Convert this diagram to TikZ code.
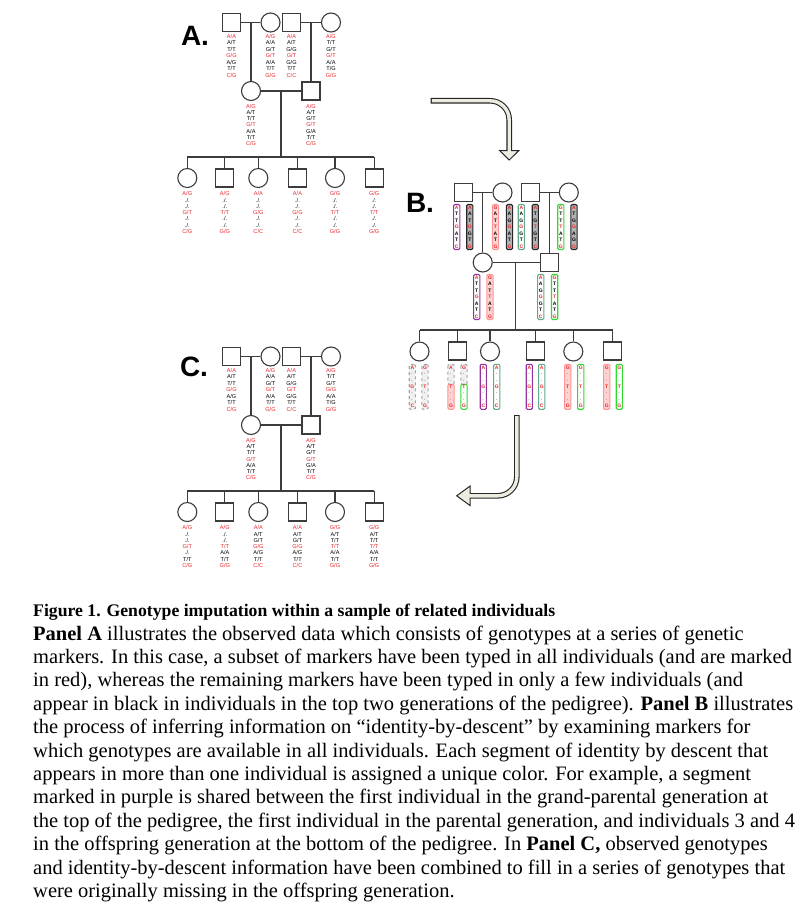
\documentclass[tikz,border=0pt]{standalone}
\usepackage{fontspec}
\setmainfont{Liberation Serif}
\setsansfont{Liberation Sans}
\usetikzlibrary{shapes, arrows.meta, positioning, calc}
\definecolor{genored}{RGB}{235, 35, 40}
\definecolor{pedline}{RGB}{60, 60, 60}
\definecolor{hpurple}{RGB}{150, 50, 160}
\definecolor{hpink}{RGB}{255, 150, 150}
\definecolor{hpinkfill}{RGB}{255, 210, 210}
\definecolor{hteal}{RGB}{95, 170, 135}
\definecolor{hgreen}{RGB}{45, 220, 45}
\definecolor{arrowfill}{RGB}{238, 236, 225}

\tikzset{
  male/.style={draw=pedline, line width=1.1pt, minimum size=18pt, inner sep=0pt},
  female/.style={circle, draw=pedline, line width=1.1pt, minimum size=19pt, inner sep=0pt},
  ped/.style={draw=pedline, line width=1.1pt},
  geno/.style={inner sep=0pt, font=\sffamily\fontsize{5.6}{6}\selectfont, text height=4pt, text depth=0.3pt},
  hap/.style={rounded corners=1.2pt, line width=1.1pt, minimum width=6.2pt, minimum height=45pt,
    inner sep=0pt, align=center, font=\sffamily\bfseries\fontsize{5}{6.45}\selectfont},
  purplebar/.style={hap, draw=hpurple, fill=white},
  blackbar/.style={hap, draw=black!85, fill=black!30},
  pinkbar/.style={hap, draw=hpink, fill=hpinkfill},
  tealbar/.style={hap, draw=hteal, fill=white},
  greenbar/.style={hap, draw=hgreen, fill=white},
  unkbar/.style={hap, draw=black!35, dashed, fill=black!6},
  panel/.style={inner sep=0pt, font=\sffamily\bfseries\fontsize{28}{30}\selectfont},
  arrowedge/.style={draw=black!85, line width=5.6pt},
  arrowbody/.style={draw=arrowfill, line width=3.4pt},
  arrowhead/.style={fill=arrowfill, draw=black!85, line width=1pt},
  caption/.style={inner sep=0pt, align=left, font=\fontsize{20.5}{23.4}\selectfont}
}

% genotypes under an individual, typed markers (rows 1, 4, 7) in red
\newcommand{\genos}[4]{%
  \foreach \g [count=\r] in {#4} {
    \pgfmathtruncatemacro{\typed}{mod(\r-1,3)==0}
    \pgfmathsetmacro{\dy}{#2+(\r-1)*#3}
    \ifnum\typed=1 \colorlet{gcol}{genored}\else\colorlet{gcol}{black}\fi
    \node[geno, text=gcol, yshift=-\dy pt] (#1-g\r) at (#1.south) {\g};
  }%
}
% haplotype letters, full and offspring (typed markers only)
\newcommand{\hapt}[7]{\textcolor{genored}{#1}\\#2\\#3\\\textcolor{genored}{#4}\\#5\\#6\\\textcolor{genored}{#7}}
\newcommand{\hapk}[3]{\textcolor{genored}{#1}\\\textcolor{gray}{·}\\\textcolor{gray}{·}\\\textcolor{genored}{#2}\\\textcolor{gray}{·}\\\textcolor{gray}{·}\\\textcolor{genored}{#3}}

% three-generation pedigree, shapes and lines
\newcommand{\pedtree}{%
  \node[male] (gf1) at (231.5,22.5) {};
  \node[female] (gm1) at (270.5,22.5) {};
  \node[male] (gf2) at (291.5,22.5) {};
  \node[female] (gm2) at (331,22.5) {};
  \node[female] (mo) at (251,91) {};
  \node[male] (fa) at (311,91) {};
  \coordinate (sib) at (281,157);
  \node[female] (k1) at (187.3,178) {};
  \node[male] (k2) at (224.8,178) {};
  \node[female] (k3) at (258.3,178) {};
  \node[male] (k4) at (297.5,178) {};
  \node[female] (k5) at (335,178) {};
  \node[male] (k6) at (374.2,178) {};
  \draw[ped] (gf1) -- (gm1);
  \draw[ped] (gf2) -- (gm2);
  \draw[ped] (mo |- gf1) -- (mo);
  \draw[ped] (fa |- gf2) -- (fa);
  \draw[ped] (mo) -- (fa);
  \draw[ped] (sib |- mo) -- (sib);
  \draw[ped] (k1 |- sib) -- (k6 |- sib);
  \foreach \k in {1,...,6} \draw[ped] (k\k |- sib) -- (k\k);
}

\begin{document}
\begin{tikzpicture}[x=1pt, y=-1pt]
  \useasboundingbox (0,0) rectangle (803,915);

  % Panel A: observed genotypes
  \node[panel] (labA) at (195,36) {A.};
  \begin{scope}[name prefix=a-]
    \pedtree
    \genos{gf1}{4.5}{6.5}{A/A,A/T,T/T,G/G,A/G,T/T,C/G}
    \genos{gm1}{4}{6.5}{A/G,A/A,G/T,G/T,A/A,T/T,G/G}
    \genos{gf2}{4.5}{6.5}{A/A,A/T,G/G,G/T,G/G,T/T,C/C}
    \genos{gm2}{4}{6.5}{A/G,T/T,G/T,G/T,A/A,T/G,G/G}
    \genos{mo}{5.5}{6.2}{A/G,A/T,T/T,G/T,A/A,T/T,C/G}
    \genos{fa}{6}{6.2}{A/G,A/T,G/T,G/T,G/A,T/T,C/G}
    \genos{k1}{5.8}{6.3}{A/G,./.,./.,G/T,./.,./.,C/G}
    \genos{k2}{6.3}{6.3}{A/G,./.,./.,T/T,./.,./.,G/G}
    \genos{k3}{5.8}{6.3}{A/A,./.,./.,G/G,./.,./.,C/C}
    \genos{k4}{6.3}{6.3}{A/A,./.,./.,G/G,./.,./.,C/C}
    \genos{k5}{5.8}{6.3}{G/G,./.,./.,T/T,./.,./.,G/G}
    \genos{k6}{6.3}{6.3}{G/G,./.,./.,T/T,./.,./.,G/G}
  \end{scope}

  % arrow A -> B
  \coordinate (arrA-s) at (430.7,100.8);
  \coordinate (arrA-c) at (509.2,100.8);
  \coordinate (arrA-e) at (509.2,150.7);
  \coordinate (arrA-t) at (509.2,160);
  \draw[arrowedge, rounded corners=19pt] (arrA-s) -- (arrA-c) -- (arrA-e);
  \filldraw[arrowhead] (arrA-e) ++(-9.5,0) -- ++(19,0) -- (arrA-t) -- cycle;
  \draw[arrowbody, rounded corners=19pt, shorten <=1.1pt, shorten >=-2.5pt] (arrA-s) -- (arrA-c) -- (arrA-e);

  % Panel B: identity-by-descent segments
  \node[panel] (labB) at (420,203) {B.};
  \node[male] (b-gf1) at (463.3,192.5) {};
  \node[female] (b-gm1) at (502.5,192.5) {};
  \node[male] (b-gf2) at (530.5,192.5) {};
  \node[female] (b-gm2) at (568.8,192.5) {};
  \node[female] (b-mo) at (482.7,262.5) {};
  \node[male] (b-fa) at (549.3,262.5) {};
  \coordinate (b-sib) at (515.8,330);
  \node[female] (b-k1) at (419.5,351.5) {};
  \node[male] (b-k2) at (457.2,351) {};
  \node[female] (b-k3) at (490,351.5) {};
  \node[male] (b-k4) at (535.5,351) {};
  \node[female] (b-k5) at (573.3,351.5) {};
  \node[male] (b-k6) at (612.5,351) {};
  \draw[ped] (b-gf1) -- (b-gm1);
  \draw[ped] (b-gf2) -- (b-gm2);
  \draw[ped] (b-mo |- b-gf1) -- (b-mo);
  \draw[ped] (b-fa |- b-gf2) -- (b-fa);
  \draw[ped] (b-mo) -- (b-fa);
  \draw[ped] (b-sib |- b-mo) -- (b-sib);
  \draw[ped] (b-k1 |- b-sib) -- (b-k6 |- b-sib);
  \foreach \k in {1,...,6} \draw[ped] (b-k\k |- b-sib) -- (b-k\k);

  \node[purplebar] (b-h1) at (456.7,227) {\hapt ATTGATC};
  \node[blackbar] (b-h2) at (469.8,227) {\hapt AATGGTG};
  \node[pinkbar] (b-h3) at (495.5,227) {\hapt GATTATG};
  \node[blackbar] (b-h4) at (509.5,227) {\hapt AAGGATG};
  \node[tealbar] (b-h5) at (521.3,227) {\hapt AAGGGTC};
  \node[blackbar] (b-h6) at (535.3,227) {\hapt ATGTGTC};
  \node[greenbar] (b-h7) at (560.8,227) {\hapt GTTTATG};
  \node[blackbar] (b-h8) at (574,227) {\hapt ATGGAGG};

  \node[purplebar] (b-h9) at (476.7,297) {\hapt ATTGATC};
  \node[pinkbar] (b-h10) at (490,297) {\hapt GATTATG};
  \node[tealbar] (b-h11) at (540.7,297) {\hapt AAGGGTC};
  \node[greenbar] (b-h12) at (554.6,297) {\hapt GTTTATG};

  \node[unkbar] (b-k1a) at (412.3,386.8) {\hapk AGC};
  \node[unkbar] (b-k1b) at (425,386.8) {\hapk GTG};
  % second child: segment known only below the recombination
  \draw[unkbar] (447.9,364.3) rectangle (454.1,384.3);
  \draw[pinkbar] (447.9,384.3) rectangle (454.1,409.3);
  \draw[unkbar] (460.9,364.3) rectangle (467.1,384.3);
  \draw[greenbar] (460.9,384.3) rectangle (467.1,409.3);
  \node[hap] (b-k2a) at (451,386.8) {\hapk ATG};
  \node[hap] (b-k2b) at (464,386.8) {\hapk GTG};
  \node[purplebar] (b-k3a) at (483.3,386.8) {\hapk AGC};
  \node[tealbar] (b-k3b) at (496.7,386.8) {\hapk AGC};
  \node[purplebar] (b-k4a) at (529.3,386.8) {\hapk AGC};
  \node[tealbar] (b-k4b) at (541.7,386.8) {\hapk AGC};
  \node[pinkbar] (b-k5a) at (567.7,386.8) {\hapk GTG};
  \node[greenbar] (b-k5b) at (580.7,386.8) {\hapk GTG};
  \node[pinkbar] (b-k6a) at (606.7,386.8) {\hapk GTG};
  \node[greenbar] (b-k6b) at (619.3,386.8) {\hapk GTG};

  % arrow B -> C
  \coordinate (arrB-s) at (516.8,415);
  \coordinate (arrB-c) at (516.8,495.8);
  \coordinate (arrB-e) at (470,495.8);
  \coordinate (arrB-t) at (456.7,495.8);
  \draw[arrowedge, rounded corners=19pt] (arrB-s) -- (arrB-c) -- (arrB-e);
  \filldraw[arrowhead] (arrB-e) ++(0,-9.7) -- ++(0,19.4) -- (arrB-t) -- cycle;
  \draw[arrowbody, rounded corners=19pt, shorten <=1.1pt, shorten >=-2.5pt] (arrB-s) -- (arrB-c) -- (arrB-e);

  % Panel C: imputed genotypes
  \node[panel] (labC) at (194,367) {C.};
  \begin{scope}[shift={(0,334)}, name prefix=c-]
    \pedtree
    \genos{gf1}{4.5}{6.5}{A/A,A/T,T/T,G/G,A/G,T/T,C/G}
    \genos{gm1}{4}{6.5}{A/G,A/A,G/T,G/T,A/A,T/T,G/G}
    \genos{gf2}{4.5}{6.5}{A/A,A/T,G/G,G/T,G/G,T/T,C/C}
    \genos{gm2}{4}{6.5}{A/G,T/T,G/T,G/G,A/A,T/G,G/G}
    \genos{mo}{5.5}{6.2}{A/G,A/T,T/T,G/T,A/A,T/T,C/G}
    \genos{fa}{6}{6.2}{A/G,A/T,G/T,G/T,G/A,T/T,C/G}
    \genos{k1}{5.8}{6.3}{A/G,./.,./.,G/T,./.,T/T,C/G}
    \genos{k2}{6.3}{6.3}{A/G,./.,./.,T/T,A/A,T/T,G/G}
    \genos{k3}{5.8}{6.3}{A/A,A/T,G/T,G/G,A/G,T/T,C/C}
    \genos{k4}{6.3}{6.3}{A/A,A/T,G/T,G/G,A/G,T/T,C/C}
    \genos{k5}{5.8}{6.3}{G/G,A/T,T/T,T/T,A/A,T/T,G/G}
    \genos{k6}{6.3}{6.3}{G/G,A/T,T/T,T/T,A/A,T/T,G/G}
  \end{scope}

  % Caption
  \node[caption, anchor=north west] (cap) at (33,604) {
    {\fontsize{17.7}{23.4}\selectfont\bfseries Figure 1. Genotype imputation within a sample of related individuals}\\
    \textbf{Panel A} illustrates the observed data which consists of genotypes at a series of genetic\\
    markers. In this case, a subset of markers have been typed in all individuals (and are marked\\
    in red), whereas the remaining markers have been typed in only a few individuals (and\\
    appear in black in individuals in the top two generations of the pedigree). \textbf{Panel B} illustrates\\
    the process of inferring information on “identity-by-descent” by examining markers for\\
    which genotypes are available in all individuals. Each segment of identity by descent that\\
    appears in more than one individual is assigned a unique color. For example, a segment\\
    marked in purple is shared between the first individual in the grand-parental generation at\\
    the top of the pedigree, the first individual in the parental generation, and individuals 3 and 4\\
    in the offspring generation at the bottom of the pedigree. In \textbf{Panel C,} observed genotypes\\
    and identity-by-descent information have been combined to fill in a series of genotypes that\\
    were originally missing in the offspring generation.
  };
\end{tikzpicture}
\end{document}
